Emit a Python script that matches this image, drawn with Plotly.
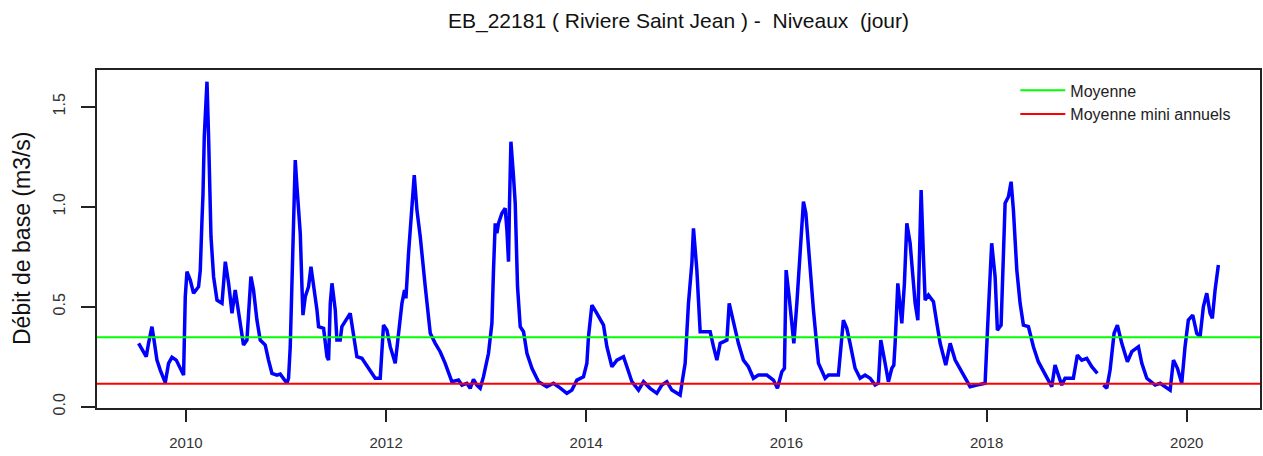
import plotly.graph_objects as go

# Dates as decimal years, values in m3/s
years = [
    2009.527, 2009.576, 2009.603, 2009.626, 2009.660, 2009.676, 2009.710, 2009.743, 2009.793, 2009.826,
    2009.860, 2009.903, 2009.943, 2009.976, 2009.993, 2010.010, 2010.043, 2010.076, 2010.126, 2010.143,
    2010.160, 2010.170, 2010.183, 2010.203, 2010.210, 2010.226, 2010.243, 2010.250, 2010.276, 2010.310,
    2010.360, 2010.393, 2010.426, 2010.460, 2010.492, 2010.525, 2010.575, 2010.609, 2010.649, 2010.675,
    2010.709, 2010.742, 2010.792, 2010.825, 2010.859, 2010.909, 2010.942, 2011.009, 2011.025, 2011.042,
    2011.059, 2011.075, 2011.092, 2011.109, 2011.142, 2011.159, 2011.169, 2011.192, 2011.225, 2011.249,
    2011.275, 2011.309, 2011.325, 2011.375, 2011.409, 2011.425, 2011.442, 2011.459, 2011.492, 2011.508,
    2011.541, 2011.558, 2011.641, 2011.674, 2011.708, 2011.758, 2011.824, 2011.891, 2011.941, 2011.974,
    2012.008, 2012.041, 2012.091, 2012.124, 2012.158, 2012.184, 2012.198, 2012.224, 2012.258, 2012.281,
    2012.308, 2012.341, 2012.391, 2012.441, 2012.491, 2012.540, 2012.590, 2012.657, 2012.723, 2012.757,
    2012.807, 2012.840, 2012.873, 2012.907, 2012.940, 2012.973, 2013.023, 2013.057, 2013.073, 2013.090,
    2013.107, 2013.123, 2013.157, 2013.190, 2013.207, 2013.223, 2013.233, 2013.247, 2013.273, 2013.290,
    2013.313, 2013.340, 2013.373, 2013.407, 2013.457, 2013.523, 2013.606, 2013.672, 2013.722, 2013.806,
    2013.856, 2013.906, 2013.972, 2014.006, 2014.022, 2014.056, 2014.106, 2014.172, 2014.206, 2014.256,
    2014.306, 2014.372, 2014.406, 2014.456, 2014.522, 2014.572, 2014.638, 2014.705, 2014.755, 2014.805,
    2014.855, 2014.938, 2014.961, 2014.988, 2015.021, 2015.055, 2015.071, 2015.105, 2015.138, 2015.238,
    2015.271, 2015.305, 2015.338, 2015.405, 2015.428, 2015.471, 2015.520, 2015.570, 2015.620, 2015.670,
    2015.720, 2015.804, 2015.870, 2015.910, 2015.954, 2015.980, 2015.997, 2016.027, 2016.054, 2016.074,
    2016.104, 2016.137, 2016.170, 2016.194, 2016.237, 2016.270, 2016.320, 2016.387, 2016.420, 2016.519,
    2016.569, 2016.603, 2016.636, 2016.686, 2016.736, 2016.786, 2016.836, 2016.886, 2016.919, 2016.943,
    2016.986, 2017.019, 2017.053, 2017.073, 2017.086, 2017.113, 2017.136, 2017.153, 2017.179, 2017.203,
    2017.236, 2017.269, 2017.286, 2017.313, 2017.326, 2017.346, 2017.369, 2017.386, 2017.419, 2017.469,
    2017.503, 2017.536, 2017.592, 2017.636, 2017.686, 2017.752, 2017.835, 2017.902, 2017.985, 2018.012,
    2018.034, 2018.051, 2018.085, 2018.108, 2018.145, 2018.168, 2018.185, 2018.218, 2018.245, 2018.268,
    2018.302, 2018.335, 2018.368, 2018.418, 2018.468, 2018.517, 2018.584, 2018.651, 2018.684, 2018.717,
    2018.751, 2018.784, 2018.867, 2018.907, 2018.951, 2019.001, 2019.051, 2019.107, 2019.137, 2019.167,
    2019.201, 2019.234, 2019.274, 2019.307, 2019.351, 2019.407, 2019.451, 2019.517, 2019.551, 2019.601,
    2019.650, 2019.684, 2019.734, 2019.784, 2019.834, 2019.867, 2019.907, 2019.950, 2019.983, 2020.016,
    2020.060, 2020.100, 2020.133, 2020.166, 2020.200, 2020.233, 2020.256, 2020.283, 2020.316,
]

debit = [
    0.317, 0.275, 0.250, 0.317, 0.400, 0.350, 0.233, 0.183, 0.120, 0.217,
    0.247, 0.233, 0.190, 0.158, 0.550, 0.675, 0.633, 0.567, 0.600, 0.683,
    0.933, 1.060, 1.350, 1.520, 1.625, 1.350, 0.950, 0.850, 0.650, 0.533,
    0.517, 0.725, 0.617, 0.467, 0.583, 0.467, 0.308, 0.333, 0.650, 0.583,
    0.433, 0.333, 0.308, 0.233, 0.167, 0.158, 0.163, 0.117, 0.142, 0.300,
    0.650, 0.983, 1.233, 1.100, 0.867, 0.600, 0.458, 0.550, 0.600, 0.700,
    0.617, 0.483, 0.400, 0.392, 0.250, 0.233, 0.517, 0.617, 0.483, 0.333,
    0.333, 0.400, 0.467, 0.367, 0.250, 0.242, 0.192, 0.142, 0.142, 0.408,
    0.383, 0.300, 0.217, 0.367, 0.517, 0.583, 0.542, 0.767, 0.983, 1.158,
    0.983, 0.850, 0.600, 0.367, 0.317, 0.275, 0.217, 0.125, 0.133, 0.108,
    0.117, 0.092, 0.137, 0.108, 0.092, 0.150, 0.267, 0.417, 0.683, 0.917,
    0.867, 0.917, 0.967, 0.992, 0.883, 0.725, 1.017, 1.325, 1.150, 1.017,
    0.600, 0.400, 0.375, 0.267, 0.192, 0.125, 0.100, 0.117, 0.100, 0.067,
    0.083, 0.133, 0.150, 0.217, 0.350, 0.508, 0.467, 0.408, 0.300, 0.200,
    0.233, 0.250, 0.200, 0.125, 0.083, 0.125, 0.092, 0.067, 0.108, 0.125,
    0.083, 0.058, 0.133, 0.217, 0.517, 0.717, 0.892, 0.683, 0.375, 0.375,
    0.300, 0.233, 0.317, 0.333, 0.517, 0.417, 0.317, 0.233, 0.200, 0.142,
    0.158, 0.158, 0.133, 0.092, 0.175, 0.192, 0.683, 0.550, 0.417, 0.317,
    0.517, 0.800, 1.025, 0.967, 0.683, 0.483, 0.217, 0.142, 0.158, 0.158,
    0.433, 0.392, 0.317, 0.192, 0.142, 0.158, 0.142, 0.108, 0.117, 0.333,
    0.217, 0.125, 0.192, 0.208, 0.317, 0.617, 0.500, 0.417, 0.617, 0.917,
    0.817, 0.600, 0.517, 0.433, 0.683, 1.083, 0.750, 0.533, 0.558, 0.525,
    0.417, 0.317, 0.208, 0.317, 0.233, 0.175, 0.100, 0.108, 0.117, 0.417,
    0.683, 0.817, 0.650, 0.383, 0.408, 0.750, 1.017, 1.050, 1.125, 0.983,
    0.683, 0.517, 0.408, 0.400, 0.300, 0.225, 0.158, 0.100, 0.208, 0.158,
    0.108, 0.142, 0.142, 0.258, 0.233, 0.242, 0.200, 0.167, None, 0.108,
    0.092, 0.183, 0.367, 0.408, 0.317, 0.225, 0.275, 0.300, 0.217, 0.142,
    0.125, 0.108, 0.117, 0.100, 0.083, 0.233, 0.192, 0.117, 0.300, 0.433,
    0.458, 0.367, 0.350, 0.500, 0.567, 0.467, 0.442, 0.583, 0.708,
]

moyenne = 0.347
moyenne_mini = 0.115

x_ticks = [2010, 2012, 2014, 2016, 2018, 2020]
x_tick_labels = ["2010", "2012", "2014", "2016", "2018", "2020"]
y_ticks = [0.0, 0.5, 1.0, 1.5]
y_tick_labels = ["0.0", "0.5", "1.0", "1.5"]

x_range = [2009.111, 2020.732]
y_range = [-0.0065, 1.6835]

title_text = "EB_22181 ( Riviere Saint Jean ) -\u00a0 Niveaux\u00a0 (jour)"
y_label = "Débit de base (m3/s)"

FONT = "Liberation Sans, Arial, sans-serif"

fig = go.Figure()
fig.add_trace(go.Scatter(
    x=years, y=debit, mode="lines", connectgaps=False,
    line=dict(color="#0000FF", width=3.5), showlegend=False,
))
fig.add_trace(go.Scatter(
    x=x_range, y=[moyenne, moyenne], mode="lines",
    line=dict(color="#00FF00", width=2), name="Moyenne",
))
fig.add_trace(go.Scatter(
    x=x_range, y=[moyenne_mini, moyenne_mini], mode="lines",
    line=dict(color="#FF0000", width=2), name="Moyenne mini annuels",
))

fig.update_layout(
    width=1263, height=456,
    margin=dict(l=97, r=3, t=70, b=48, autoexpand=False),
    paper_bgcolor="white", plot_bgcolor="white",
    font=dict(family=FONT, color="#222"),
    title=dict(text=title_text, font=dict(size=21, color="#111"),
               x=0.5, xref="paper", xanchor="center",
               y=1 - 21 / 456, yref="container", yanchor="middle"),
    legend=dict(x=0.7896, y=0.99, xanchor="left", yanchor="top",
                bgcolor="rgba(0,0,0,0)", borderwidth=0, itemwidth=45,
                font=dict(size=16, color="#222"), tracegroupgap=0),
    showlegend=True,
)
fig.update_xaxes(
    range=x_range, tickvals=x_ticks, ticktext=x_tick_labels,
    showgrid=False, zeroline=False, automargin=False,
    showline=True, linecolor="#222", linewidth=1.5, mirror=True,
    ticks="outside", ticklen=12, tickwidth=1.5, tickcolor="#222",
    tickfont=dict(size=15, color="#333"), ticklabelstandoff=8,
)
fig.update_yaxes(
    range=y_range, tickvals=y_ticks, ticktext=y_tick_labels,
    showgrid=False, zeroline=False, automargin=False,
    showline=True, linecolor="#222", linewidth=1.5, mirror=True,
    ticks="outside", ticklen=14, tickwidth=1.5, tickcolor="#222",
    tickangle=-90, tickfont=dict(size=16, color="#333"), ticklabelstandoff=10,
)
fig.add_annotation(
    text=y_label, xref="paper", yref="paper",
    x=(22 - 97) / 1163, y=0.5, xanchor="center", yanchor="middle",
    textangle=-90, showarrow=False, font=dict(size=23, color="#111"),
)

fig.write_html(
    "out.html",
    config={"displayModeBar": False},
    post_script="document.body.style.margin='0';document.body.style.padding='0';",
)
